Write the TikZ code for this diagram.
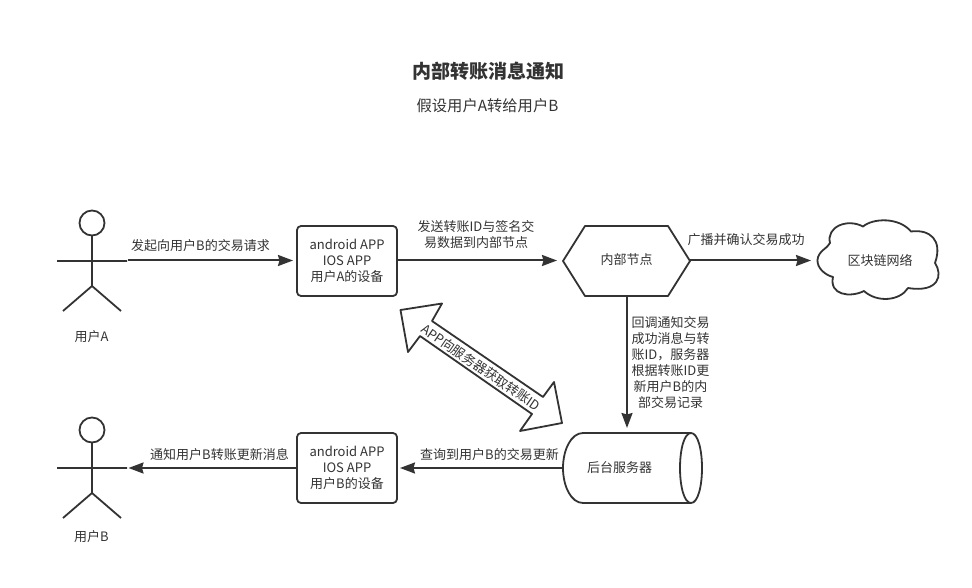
\documentclass[tikz,border=0pt]{standalone}
\usepackage{fontspec}
\setmainfont{Noto Sans CJK SC}
\usetikzlibrary{arrows.meta}
\definecolor{ink}{HTML}{333333}
\tikzset{
  shapeline/.style={draw=ink,line width=1.8pt,line join=round},
  boxnode/.style={shapeline,rounded corners=4pt,minimum width=100pt,minimum height=70pt,inner sep=0pt,align=center,text=ink,font=\fontsize{13}{16}\selectfont},
  lab/.style={text=ink,font=\fontsize{13}{16}\selectfont,align=center,inner sep=0pt},
  conn/.style={draw=ink,line width=2pt,-{Stealth[length=15pt,width=11pt,inset=1.5pt]}},
}
\begin{document}
\begin{tikzpicture}[x=1pt,y=-1pt]
\useasboundingbox (0,0) rectangle (972,588);
% titles
\node[lab,font=\fontsize{19}{22}\selectfont\bfseries] (title) at (488,71) {内部转账消息通知};
\node[lab,font=\fontsize{15.3}{18}\selectfont] (sub) at (487.5,106) {假设用户A转给用户B};
% actor A
\draw[shapeline] (92,223) circle (12.5);
\draw[shapeline] (92,235.5) -- (92,286) (57,261) -- (127,261) (63,311) -- (92,286) -- (121,311);
\coordinate (actA) at (127.5,260.5);
\coordinate (boxAin) at (293,260.5);
\node[lab] (lA) at (91.5,337) {用户A};
% actor B
\draw[shapeline] (92,430) circle (12.5);
\draw[shapeline] (92,442.5) -- (92,493) (57,468) -- (127,468) (63,518) -- (92,493) -- (121,518);
\coordinate (actB) at (128.5,468);
\node[lab] (lB) at (91.5,537) {用户B};
% boxes
\node[boxnode] (boxA) at (347,261) {android APP\\IOS APP\\用户A的设备};
\node[boxnode] (boxB) at (347,468) {android APP\\IOS APP\\用户B的设备};
% hexagon
\draw[shapeline,fill=white] (563,261) -- (585,226) -- (668,226) -- (690,261) -- (668,296) -- (585,296) -- cycle;
\node[lab] (hex) at (626.5,260) {内部节点};
\coordinate (hexR) at (690,260.5);
\coordinate (hexL) at (557,260.5);
\coordinate (hexB) at (627,296);
% cloud
\draw[shapeline] (817.5,260) .. controls (818,251) and (828,248) .. (830,243)
 .. controls (826,227) and (847,218) .. (863,226.5)
 .. controls (873,218) and (899,217) .. (911,231.5)
 .. controls (930,229) and (943,240) .. (935,263)
 .. controls (943,275) and (939,293) .. (908,288)
 .. controls (900,301) and (877,303) .. (864,291)
 .. controls (850,298) and (829,295) .. (833,277)
 .. controls (825,275) and (817,268) .. (817.5,260) -- cycle;
\node[lab] (cloud) at (880,260.5) {区块链网络};
\coordinate (cloudL) at (811,260.5);
% cylinder
\draw[shapeline] (583,433) -- (691,433) .. controls (698,433) and (702,450) .. (702,468)
 .. controls (702,486) and (698,503) .. (691,503) -- (583,503)
 .. controls (571,503) and (563,486) .. (563,468) .. controls (563,450) and (571,433) .. (583,433) -- cycle;
\draw[shapeline] (691,433) .. controls (684,433) and (680,450) .. (680,468) .. controls (680,486) and (684,503) .. (691,503);
\node[lab] (cyl) at (619.5,467.5) {后台服务器};
\coordinate (cylT) at (627,428);
\coordinate (cylL) at (563,468);
\coordinate (boxBin) at (400,468);
% connectors
\draw[conn] (actA) -- (boxAin);
\draw[conn] (boxA.east |- hexL) -- (hexL);
\draw[conn] (hexR) -- (cloudL);
\draw[conn] (hexB) -- (cylT);
\draw[conn] (cylL) -- (boxBin);
\draw[conn] (boxB.west) -- (actB);
% labels
\node[lab] (t1) at (200.5,245.5) {发起向用户B的交易请求};
\node[lab] (t2) at (476,235) {发送转账ID与签名交\\易数据到内部节点};
\node[lab] (t3) at (746,240) {广播并确认交易成功};
\node[lab] (t4) at (670.5,363) {回调通知交易\\成功消息与转\\账ID，服务器\\根据转账ID更\\新用户B的内\\部交易记录};
\node[lab] (t5) at (489.5,454.5) {查询到用户B的交易更新};
\node[lab] (t6) at (219.5,455) {通知用户B转账更新消息};
% double arrow
\draw[shapeline] (400.5,310) -- (442,303.5) -- (432,321) -- (543,397) -- (554,382) -- (562,423) -- (520,431) -- (532,414) -- (420,336) -- (408,352) -- cycle;
\node[lab,rotate=-34.5] (t7) at (481,367.5) {APP向服务器获取转账ID};
\end{tikzpicture}
\end{document}
